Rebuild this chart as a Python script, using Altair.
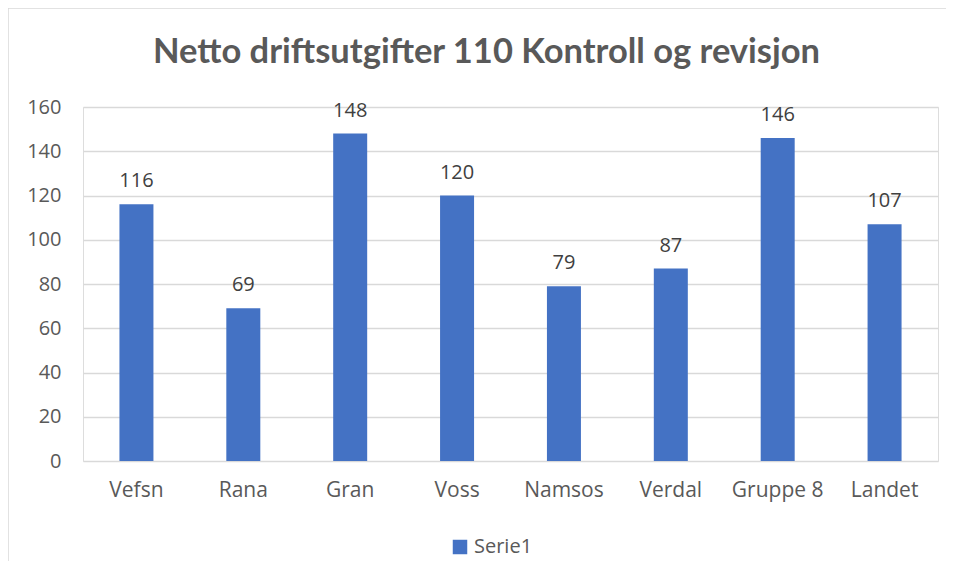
import altair as alt
import pandas as pd

categories = ["Vefsn", "Rana", "Gran", "Voss", "Namsos", "Verdal", "Gruppe 8", "Landet"]
values = [116, 69, 148, 120, 79, 87, 146, 107]
series = ["Serie1"] * len(categories)

df = pd.DataFrame({"kommune": categories, "verdi": values, "serie": series})

FONT = "Open Sans"
TFONT = "Lato"
GREY = "#595959"
BLUE = "#4472C4"

base = alt.Chart(df)

bars = base.mark_bar(size=34).encode(
    x=alt.X("kommune:N", sort=categories, title=None,
            axis=alt.Axis(labelAngle=0, labelFontSize=21, labelColor=GREY, labelFont=FONT,
                          labelPadding=18, ticks=False, domain=False, grid=False)),
    y=alt.Y("verdi:Q", title=None, scale=alt.Scale(domain=[0, 160]),
            axis=alt.Axis(values=list(range(0, 161, 20)), labelFontSize=20, labelColor=GREY,
                          labelFont=FONT, labelPadding=22, ticks=False, domain=False,
                          grid=True, gridColor="#d9d9d9", gridWidth=1.3)),
    color=alt.Color("serie:N", scale=alt.Scale(range=[BLUE]), title=None,
                    legend=alt.Legend(orient="none", legendX=367, legendY=430, symbolType="square",
                                      symbolSize=210, labelFontSize=20, labelColor=GREY,
                                      labelFont=FONT, symbolStrokeWidth=0, labelOffset=4)),
)

labels = base.mark_text(baseline="bottom", dy=-13, fontSize=20, font=FONT, color="#404040").encode(
    x=alt.X("kommune:N", sort=categories),
    y="verdi:Q",
    text="verdi:Q",
)

border_left = alt.Chart(pd.DataFrame({"a": [0]})).mark_rule(color="#d9d9d9", strokeWidth=1.5).encode(
    x=alt.value(-75), y=alt.value(-99), y2=alt.value(480)
)
border_top = alt.Chart(pd.DataFrame({"a": [0]})).mark_rule(color="#d9d9d9", strokeWidth=1.5).encode(
    x=alt.value(-75), x2=alt.value(880), y=alt.value(-99)
)

chart = alt.layer(bars, labels, border_left, border_top).properties(
    width=855, height=354,
    autosize=alt.AutoSizeParams(type="none"),
    padding={"left": 75, "top": 99, "right": 8, "bottom": 100},
    title=alt.TitleParams("Netto driftsutgifter 110 Kontroll og revisjon", fontSize=34.5, font=TFONT,
                          fontWeight="bold", color=GREY, anchor="middle", frame="group",
                          dx=-24, offset=-90, baseline="alphabetic"),
).configure_view(stroke=None).configure(background="white")

chart.save("out.html", embed_options={"renderer": "svg", "actions": False})
